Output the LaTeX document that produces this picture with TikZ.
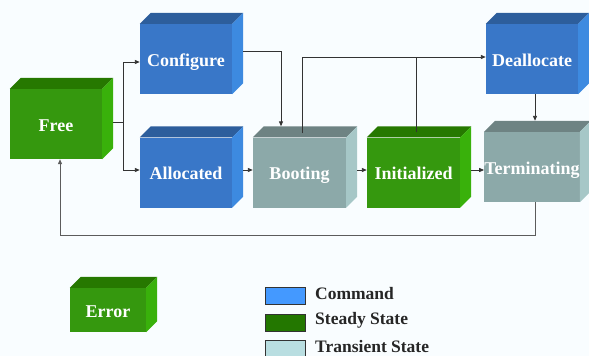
\documentclass[tikz,border=0pt]{standalone}
\usepackage{fontspec}
\setmainfont{Liberation Serif}
\usetikzlibrary{arrows.meta,calc}

\definecolor{bg}{HTML}{F9FDFF}
\definecolor{cmdfront}{HTML}{3977C8}
\definecolor{cmdtop}{HTML}{2D5E9C}
\definecolor{cmdside}{HTML}{3D8AE0}
\definecolor{stfront}{HTML}{35980E}
\definecolor{sttop}{HTML}{267800}
\definecolor{stside}{HTML}{39B10B}
\definecolor{trfront}{HTML}{8CA9A9}
\definecolor{trtop}{HTML}{6E8383}
\definecolor{trside}{HTML}{A6C7C7}
\definecolor{lgcmd}{HTML}{4499FF}
\definecolor{lgst}{HTML}{237700}
\definecolor{lgtr}{HTML}{B9DEE1}
\definecolor{wire}{HTML}{333333}

% top and right faces of a box whose front face is the node #1
\newcommand\boxfaces[3]{%
  \fill[#2] (#1.north west) -- ++(11,-11) -- ([shift={(11,-11)}]#1.north east) -- (#1.north east) -- cycle;
  \fill[#3] (#1.north east) -- ++(11,-11) -- ([shift={(11,-11)}]#1.south east) -- (#1.south east) -- cycle;
}

\begin{document}
\begin{tikzpicture}[x=1pt,y=-1pt,
  face/.style={inner sep=0pt, minimum width=92pt, minimum height=70pt,
    text height=15pt, text depth=1pt,
    text=white, font=\bfseries\fontsize{18}{19}\selectfont},
  cmdbox/.style={face, fill=cmdfront},
  stbox/.style={face, fill=stfront},
  trbox/.style={face, fill=trfront},
  wireline/.style={draw=wire, line width=0.9pt},
  arr/.style={wireline, -{Triangle[length=5pt,width=4pt]}},
  swatch/.style={draw=wire, line width=0.8pt, minimum width=40pt, minimum height=17pt, inner sep=0pt},
  legtext/.style={anchor=west, inner sep=0pt, text=black!85, font=\bfseries\fontsize{17.5}{18}\selectfont}
]
\fill[bg] (0,0) rectangle (589,356);
\useasboundingbox (0,0) rectangle (589,356);

% state boxes
\node[stbox]  (free) at (56,124)    {Free};
\node[cmdbox] (cfg)  at (186,59)    {Configure};
\node[cmdbox] (alloc) at (186,172.5) {Allocated};
\node[trbox, minimum width=93pt] (boot) at (299.5,172.5) {Booting};
\node[stbox, minimum width=93pt] (init) at (413.5,172.5) {Initialized};
\node[cmdbox] (dea)  at (532,59)    {Deallocate};
\node[trbox]  (term) at (532,167)   {Terminating};
\node[stbox, minimum width=76pt, minimum height=44pt] (err) at (108,310) {Error};

\boxfaces{free}{sttop}{stside}
\boxfaces{cfg}{cmdtop}{cmdside}
\boxfaces{alloc}{cmdtop}{cmdside}
\boxfaces{boot}{trtop}{trside}
\boxfaces{init}{sttop}{stside}
\boxfaces{dea}{cmdtop}{cmdside}
\boxfaces{term}{trtop}{trside}
\boxfaces{err}{sttop}{stside}

% connectors (shift={(x,y)} is in picture units, y pointing down)
\coordinate (freeout) at ([shift={(11,-2)}]free.east);
\coordinate (fj) at ([shift={(10,0)}]freeout);
\draw[wireline] (freeout) -- (fj);
\draw[arr] (fj) |- ([shift={(0,3)}]cfg.west);
\draw[arr] (fj) |- ([shift={(0,-2.5)}]alloc.west);

\draw[arr] ([shift={(11,-8)}]cfg.east) -| ([shift={(-18.5,-11)}]boot.north);
\draw[arr] ([shift={(11,-2.5)}]alloc.east) -- ([shift={(0,-2.5)}]boot.west);
\draw[arr] ([shift={(11,-2.5)}]boot.east) -- ([shift={(0,-2.5)}]init.west);
\draw[arr] ([shift={(11,-2.5)}]init.east) -- ([shift={(0,3)}]term.west);

\coordinate (bootup) at ([shift={(2.5,-4)}]boot.north);
\coordinate (initup) at ([shift={(2.5,-5)}]init.north);
\coordinate (dein) at ([shift={(0,-2)}]dea.west);
\coordinate (ij) at (initup |- dein);
\draw[arr] (bootup) |- (dein);
\draw[wireline] (initup) -- (ij);

\draw[arr] ([shift={(3,0)}]dea.south) -- ([shift={(3,-11)}]term.north);

\coordinate (loopr) at ([shift={(3,33)}]term.south);
\draw[arr, draw=wire!80] ([shift={(3,0)}]term.south) -- (loopr) -| ([shift={(4,0)}]free.south);

% legend
\node[swatch, fill=lgcmd] (lg1) at (285,295.5) {};
\node[swatch, fill=lgst]  (lg2) at (285,322.5) {};
\node[swatch, fill=lgtr]  (lg3) at (285,349) {};
\node[legtext] (lt1) at (315,293.5) {Command};
\node[legtext] (lt2) at (315,320.5) {Steady State};
\node[legtext] (lt3) at (315,347) {Transient State};
\end{tikzpicture}
\end{document}
